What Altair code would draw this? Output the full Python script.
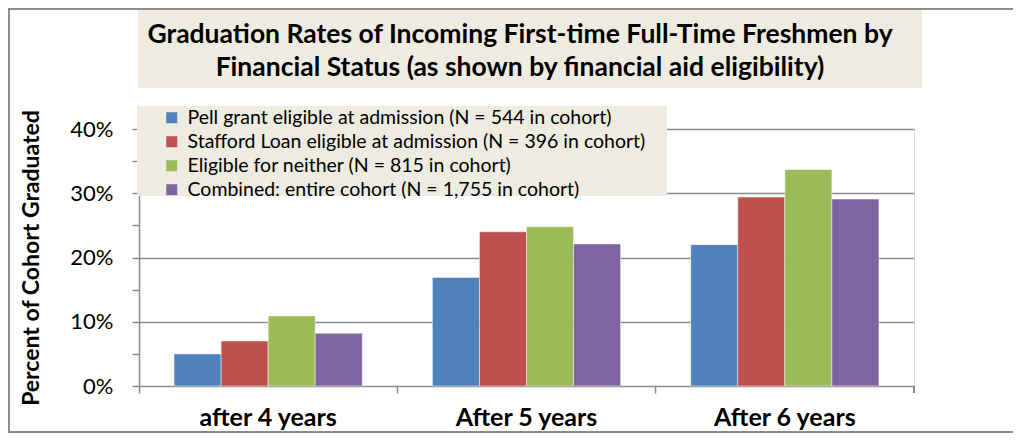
import altair as alt
import pandas as pd

periods = ["after 4 years", "After 5 years", "After 6 years"]
series = [
    "Pell grant eligible at admission (N = 544 in cohort)",
    "Stafford Loan eligible at admission (N = 396 in cohort)",
    "Eligible for neither (N = 815 in cohort)",
    "Combined: entire cohort (N = 1,755 in cohort)",
]
colors = ["#4F81BD", "#C0504D", "#9BBB59", "#8064A2"]
pell = [0.050, 0.169, 0.220]
stafford = [0.070, 0.240, 0.294]
neither = [0.109, 0.248, 0.337]
combined = [0.082, 0.221, 0.291]
y_ticks = [0, 0.05, 0.10, 0.15, 0.20, 0.25, 0.30, 0.35, 0.40]
title_lines = [
    "Graduation Rates of Incoming  First-time Full-Time Freshmen  by",
    "Financial Status (as shown by financial aid eligibility)",
]

rows = []
for s, vals in zip(series, [pell, stafford, neither, combined]):
    for p, v in zip(periods, vals):
        rows.append({"period": p, "series": s, "rate": v})
df = pd.DataFrame(rows)
title_df = pd.DataFrame({"line": title_lines, "idx": list(range(len(title_lines)))})

FONT = "Lato"
GRID = "#8C8C8C"
BEIGE = "#EEECE1"
W, H = 775, 257

bars = alt.Chart(df).mark_bar(stroke="#ffffff", strokeWidth=0.8, strokeOpacity=0.6).encode(
    x=alt.X("period:N", sort=periods, title=None,
            scale=alt.Scale(paddingInner=0, paddingOuter=0),
            axis=alt.Axis(labelAngle=0, labelFont=FONT, labelFontSize=25, labelFontWeight="bold",
                          labelColor="#000000", labelPadding=12, tickSize=7, tickColor=GRID,
                          tickWidth=1.5, bandPosition=0, domainColor=GRID, domainWidth=1.5,
                          grid=False)),
    xOffset=alt.XOffset("series:N", sort=series,
                        scale=alt.Scale(paddingInner=0, paddingOuter=0.745)),
    y=alt.Y("rate:Q", title="Percent of Cohort Graduated",
            scale=alt.Scale(domain=[0, 0.4], nice=False, zero=True),
            axis=alt.Axis(values=y_ticks,
                          labelExpr="round(datum.value*100) % 10 == 0 ? format(datum.value, '.0%') : ''",
                          labelFont=FONT, labelFontSize=22, labelColor="#000000",
                          labelPadding=19, tickSize=7, tickColor=GRID, tickWidth=1.5,
                          domainColor=GRID, domainWidth=1.5,
                          gridColor=GRID, gridWidth=1.5,
                          gridOpacity={"condition": {"test": "round(datum.value*100) % 10 == 0 && datum.value > 0", "value": 1}, "value": 0},
                          titleFont=FONT, titleFontSize=23, titleFontWeight="bold", titleColor="#000000",
                          titleX=-108, titleY=H / 2, titleAngle=270, titleAlign="center",
                          titleBaseline="middle")),
    color=alt.Color("series:N", sort=series,
                    scale=alt.Scale(domain=series, range=colors),
                    legend=alt.Legend(title=None, orient="none", legendX=23, legendY=-21,
                                      symbolType="square", symbolSize=121, symbolStrokeWidth=0,
                                      labelFont=FONT, labelFontSize=19.5, labelColor="#000000",
                                      labelLimit=600, rowPadding=3, labelOffset=6, padding=0)),
)

legend_box = alt.Chart(df).mark_rect(fill=BEIGE).encode(
    x=alt.value(-2), x2=alt.value(528), y=alt.value(-23), y2=alt.value(67)
)
title_box = alt.Chart(df).mark_rect(fill=BEIGE).encode(
    x=alt.value(-1), x2=alt.value(783), y=alt.value(-119), y2=alt.value(-41)
)
title_text = []
for i, yy in enumerate([-94, -61]):
    title_text.append(
        alt.Chart(title_df).transform_filter(alt.datum.idx == i).mark_text(
            font=FONT, fontSize=26.5, fontWeight="bold", color="#000000",
            align="center", baseline="middle"
        ).encode(text="line:N", x=alt.value(381), y=alt.value(yy))
    )
border = alt.Chart(df).mark_rect(fillOpacity=0, stroke=GRID, strokeWidth=1.5).encode(
    x=alt.value(-130.5), x2=alt.value(900), y=alt.value(-120.5), y2=alt.value(303)
)
end_tick = alt.Chart(df).mark_rule(color=GRID, strokeWidth=1.5).encode(
    x=alt.value(W), y=alt.value(H), y2=alt.value(H + 7)
)

chart = alt.layer(border, title_box, *title_text, bars, legend_box, end_tick).properties(
    width=W, height=H,
    autosize=alt.AutoSizeParams(type="none"),
    padding={"left": 131, "top": 121, "right": 99, "bottom": 47},
).configure_view(stroke=None).configure(background="#ffffff")

chart.save("out.html", embed_options={"renderer": "svg", "actions": False})
